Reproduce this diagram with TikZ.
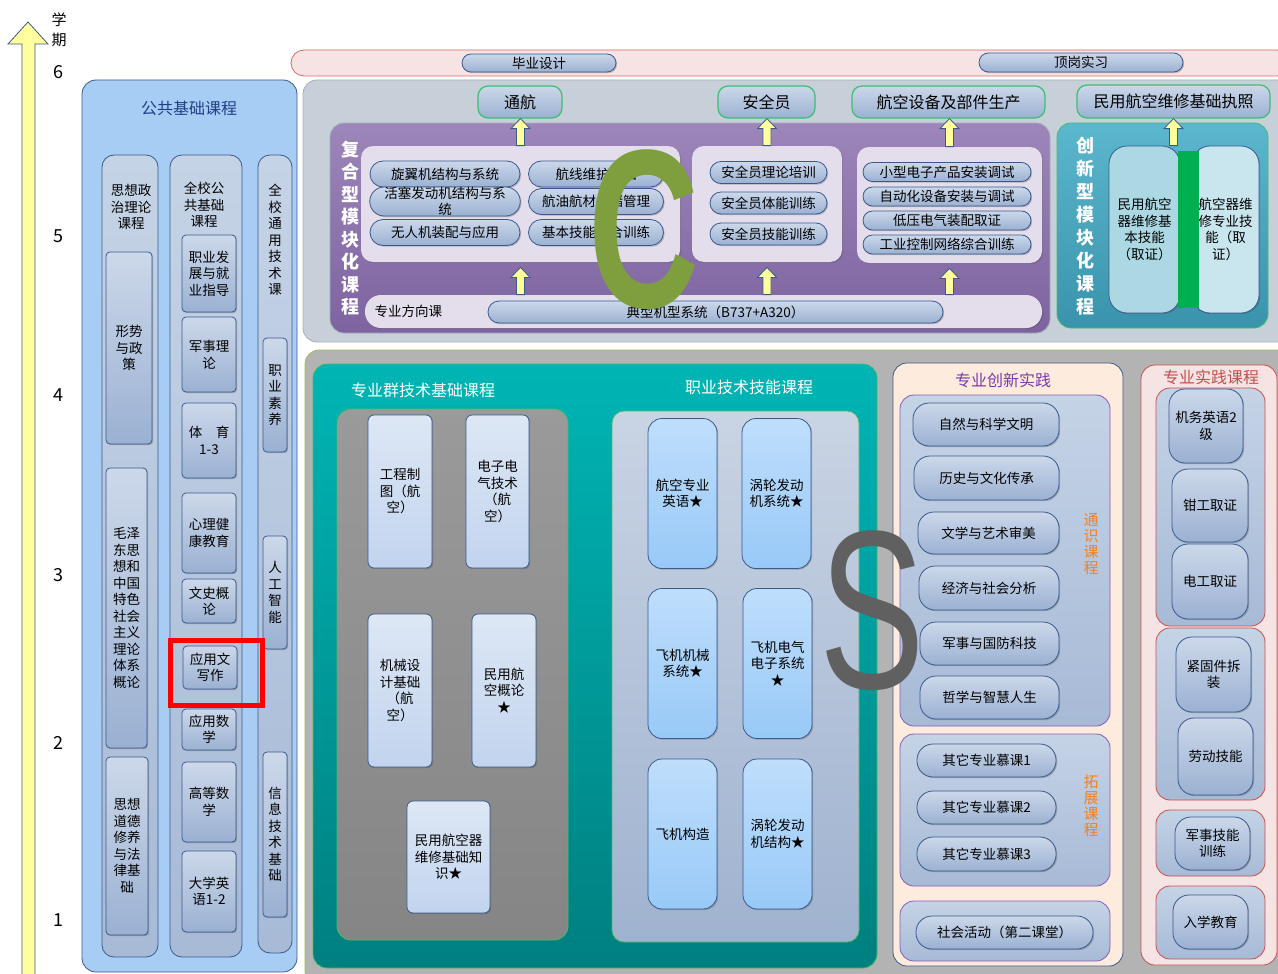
\documentclass[tikz,border=0pt]{standalone}
\usepackage{fontspec}
\usepackage{graphicx}
\usepackage{tikz}
\usetikzlibrary{calc, fit, shapes.misc, shadows}
\newfontfamily\cjk{Noto Sans CJK SC}
\newfontfamily\bigsans{Liberation Sans}
\definecolor{edgeblue}{HTML}{3B5A8C}
\definecolor{pubfill}{HTML}{A8CDF5}
\definecolor{pubttl}{HTML}{1F3F86}
\definecolor{colT}{HTML}{C5D3E6}
\definecolor{colB}{HTML}{A7BAD6}
\definecolor{itemT}{HTML}{CCD8EA}
\definecolor{itemB}{HTML}{9BB1D2}
\definecolor{axisyel}{HTML}{FFFF9E}
\definecolor{stripfill}{HTML}{F6E4E4}
\definecolor{stripedge}{HTML}{D46A66}
\definecolor{upfill}{HTML}{C7CFD9}
\definecolor{upedge}{HTML}{A5ADB7}
\definecolor{outgreen}{HTML}{3CBF70}
\definecolor{purT}{HTML}{9D86BA}
\definecolor{purB}{HTML}{7D63A0}
\definecolor{lav}{HTML}{E4DDEC}
\definecolor{cxT}{HTML}{5BB7CD}
\definecolor{cxB}{HTML}{3A93AC}
\definecolor{tpillA}{HTML}{ABD8E3}
\definecolor{tpillB}{HTML}{C9E6EE}
\definecolor{barg}{HTML}{00B050}
\definecolor{lowfill}{HTML}{B3B3B3}
\definecolor{lowedge}{HTML}{9BBB59}
\definecolor{tealT}{HTML}{00B5B5}
\definecolor{tealB}{HTML}{007F7F}
\definecolor{tealedge}{HTML}{4CB86A}
\definecolor{dkT}{HTML}{9A9A9A}
\definecolor{dkB}{HTML}{858585}
\definecolor{techT}{HTML}{DDE7F5}
\definecolor{techB}{HTML}{C2D4EE}
\definecolor{skpT}{HTML}{C9D4E4}
\definecolor{skpB}{HTML}{9FB2CF}
\definecolor{skT}{HTML}{BFDEFC}
\definecolor{skB}{HTML}{98C9F7}
\definecolor{peachfill}{HTML}{FDEBDD}
\definecolor{subedge}{HTML}{8A5BB5}
\definecolor{orangelbl}{HTML}{F28022}
\definecolor{pinkpanel}{HTML}{F6E3E3}
\definecolor{pinkedge}{HTML}{C8504C}
\definecolor{cxttl}{HTML}{7A3AAA}
\definecolor{sjttl}{HTML}{C0504D}
\definecolor{bigcgreen}{HTML}{7F9F3E}
\definecolor{bigsgrey}{HTML}{606060}
\newcommand{\boxfont}{\cjk\fontsize{13.5}{16.5}\selectfont}
\newcommand{\ttlfont}{\cjk\fontsize{16}{19}\selectfont}
\newcommand{\vttlfont}{\cjk\bfseries\fontsize{18}{22.5}\selectfont}

% yellow block arrow pointing up, lower anchor -> upper anchor
\newcommand{\liftarrow}[2]{%
  \filldraw[liftarr] let \p1=(#1), \p2=(#2) in
    (\x1-4pt,\y1) -- (\x1-4pt,\y2-10pt) -- (\x1-9.5pt,\y2-10pt) -- (\x1,\y2)
    -- (\x1+9.5pt,\y2-10pt) -- (\x1+4pt,\y2-10pt) -- (\x1+4pt,\y1) -- cycle;}

\tikzset{
  area/.style={inner sep=0pt, line width=0.8pt},
  spot/.style n args={4}{at={({(#1+#3)/2},{(#2+#4)/2})},
    minimum width={(#3-#1)*1pt}, minimum height={(#4-#2)*1pt}},
  shd/.style={drop shadow={shadow xshift=1.2pt, shadow yshift=-1.2pt, opacity=0.3, fill=black!70}},
  pubblk/.style={area, rounded corners=14pt, draw=edgeblue, fill=pubfill},
  colbox/.style={area, rounded corners=12pt, draw=edgeblue, top color=colT, bottom color=colB},
  item/.style={area, rounded corners=4pt, draw=edgeblue, top color=itemT, bottom color=itemB, align=center, shd},
  pill/.style={area, rounded rectangle, draw=edgeblue, top color=itemT, bottom color=itemB, align=center, shd},
  outc/.style={area, rounded corners=10pt, draw=outgreen, line width=1.2pt, top color=itemT, bottom color=itemB, font=\ttlfont},
  strip/.style={area, rounded rectangle, draw=stripedge, fill=stripfill},
  upblk/.style={area, rounded corners=14pt, draw=upedge, fill=upfill},
  purblk/.style={area, rounded corners=14pt, draw=upedge, top color=purT, bottom color=purB},
  lavpan/.style={area, rounded corners=12pt, fill=lav, shd},
  vttl/.style={align=center, text=white, font=\vttlfont},
  cxblk/.style={area, rounded corners=14pt, draw=outgreen, top color=cxT, bottom color=cxB},
  tpill/.style={area, rounded corners=18pt, draw=edgeblue, fill=tpillA, align=center, shd},
  tpill2/.style={tpill, fill=tpillB},
  gbar/.style={area, fill=barg},
  liftarr/.style={fill=axisyel, draw=edgeblue, line width=0.8pt},
  lowblk/.style={area, rounded corners=14pt, draw=lowedge, fill=lowfill},
  tealblk/.style={area, rounded corners=14pt, draw=tealedge, top color=tealT, bottom color=tealB},
  wttl/.style={text=white, font=\ttlfont},
  dkpan/.style={area, rounded corners=14pt, draw=tealedge, top color=dkT, bottom color=dkB},
  tech/.style={area, rounded corners=6pt, draw=edgeblue, top color=techT, bottom color=techB, align=center, shd},
  skpan/.style={area, rounded corners=12pt, draw=tealedge, top color=skpT, bottom color=skpB},
  skill/.style={area, rounded corners=14pt, draw=edgeblue, top color=skT, bottom color=skB, align=center, shd},
  peach/.style={area, rounded corners=14pt, draw=edgeblue, fill=peachfill},
  psub/.style={area, rounded corners=14pt, draw=subedge, top color=colT, bottom color=colB},
  rbox/.style={area, rounded corners=16pt, draw=edgeblue, top color=itemT, bottom color=itemB, align=center, shd},
  olbl/.style={align=center, text=orangelbl, font=\cjk\fontsize{15}{16}\selectfont},
  pinkpan/.style={area, rounded corners=14pt, draw=pinkedge, fill=pinkpanel},
  rsub/.style={area, rounded corners=14pt, draw=pinkedge, top color=colT, bottom color=colB},
  hilite/.style={area, draw=red, line width=5pt},
  semnum/.style={font=\cjk\fontsize{18}{20}\selectfont},
  bigletter/.style={inner sep=0pt, font=\bigsans\fontsize{226}{226}\selectfont},
}

\begin{document}
\begin{tikzpicture}[x=1pt, y=-1pt, font=\boxfont]
  \useasboundingbox (0,0) rectangle (1278,974);
  % semester axis
  \filldraw[liftarr] (22,980) -- (22,44) -- (8,44) -- (28,22) -- (48,44) -- (35,44) -- (35,980) -- cycle;
  \node[align=center, font=\cjk\fontsize{15}{20}\selectfont] (semttl) at (59,30) {学\\期};
  \foreach \s/\y in {6/72,5/236,4/395,3/575,2/743,1/920}
    \node[semnum] (sem\s) at (58,\y) {\s};

  % public base courses
  \node[pubblk, fit={(82,80) (297,972)}] (pub) {};
  \node[font=\ttlfont, text=pubttl] (pubttl) at (189,108) {公共基础课程};
  \node[colbox, fit={(102,155) (158,957)}] (colA) {};
  \node[colbox, fit={(170,155) (242,957)}] (colB) {};
  \node[colbox, fit={(258,155) (292,953)}] (colC) {};
  \node[align=center] (colAttl) at (131,207) {思想政\\治理论\\课程};
  \node[align=center] (colBttl) at (204,205) {全校公\\共基础\\课程};
  \node[align=center] (colCttl) at (275,240) {全\\校\\通\\用\\技\\术\\课};
  \node[item, spot={106}{252}{152}{444}] (xszc) {形势\\与政\\策};
  \node[item, spot={106}{468}{147}{748}] (mzd) {毛泽\\东思\\想和\\中国\\特色\\社会\\主义\\理论\\体系\\概论};
  \node[item, spot={106}{757}{148}{935}] (sxdd) {思想\\道德\\修养\\与法\\律基\\础};
  \node[item, spot={182}{235}{236}{312}] (zyfz) {职业发\\展与就\\业指导};
  \node[item, spot={182}{317}{236}{392}] (jsll) {军事理\\论};
  \node[item, spot={182}{403}{236}{478}] (ty) {体\quad 育\\1-3};
  \node[item, spot={182}{493}{236}{573}] (xljk) {心理健\\康教育};
  \node[item, spot={182}{579}{236}{623}] (wsgl) {文史概\\论};
  \node[item, spot={183}{646}{237}{689}] (yywx) {应用文\\写作};
  \node[item, spot={182}{709}{236}{750}] (yysx) {应用数\\学};
  \node[item, spot={182}{762}{236}{842}] (gdsx) {高等数\\学};
  \node[item, spot={182}{851}{236}{932}] (dxyy) {大学英\\语1-2};
  \node[item, spot={263}{338}{287}{452}] (zysy) {职\\业\\素\\养};
  \node[item, spot={263}{536}{287}{649}] (rgzn) {人\\工\\智\\能};
  \node[item, spot={263}{752}{287}{917}] (xxjs) {信\\息\\技\\术\\基\\础};
  \node[hilite, fit={(170.5,640.5) (262.5,705.5)}] (hl) {};

  % graduation strip
  \node[strip, fit={(304,50) (1277,76)}] (strip) {};
  \node[pill, spot={462}{54}{616}{72}] (bysj) {毕业设计};
  \node[pill, spot={979}{53}{1183}{72}] (dgsx) {顶岗实习};

  % upper block: outcomes and modular courses
  \node[upblk, fit={(303,80) (1292,342)}] (upper) {};
  \node[outc, spot={478}{86}{562}{118}] (th) {通航};
  \node[outc, spot={718}{86}{815}{118}] (aqy) {安全员};
  \node[outc, spot={852}{86}{1045}{118}] (hksb) {航空设备及部件生产};
  \node[outc, spot={1077}{85}{1270}{118}] (mhzz) {民用航空维修基础执照};
  \node[purblk, fit={(330,123) (1050,333)}] (fhx) {};
  \node[vttl] (fhxttl) at (350,228) {复\\合\\型\\模\\块\\化\\课\\程};
  \node[lavpan, fit={(361,146) (680,262)}] (panA) {};
  \node[lavpan, fit={(692,146) (842,262)}] (panB) {};
  \node[lavpan, fit={(857,147) (1042,263)}] (panC) {};
  \node[lavpan, rounded corners=16pt, fit={(365,295) (1042,328)}] (dirbg) {};
  \node[anchor=west] (dirttl) at (371,311) {专业方向课};
  \node[pill, spot={488}{301}{943}{323}] (dxjx) {典型机型系统（B737+A320）};
  \foreach \nm/\y/\tx in {xyj/174/旋翼机结构与系统, hsfd/201.5/{\fontsize{13.5}{14.5}\selectfont 活塞发动机结构与系\\统}, wrj/232.5/无人机装配与应用}
    \node[pill, minimum width=150pt, minimum height=26pt] (\nm) at (445,\y) {\tx};
  \foreach \nm/\y/\tx in {hxwh/174/航线维护基础, hycc/201.5/航油航材仓储管理, jbjn/232.5/基本技能综合训练}
    \node[pill, minimum width=135pt, minimum height=26pt] (\nm) at (596,\y) {\tx};
  \foreach \nm/\y/\tx in {aqll/172.5/安全员理论培训, aqtn/203/安全员体能训练, aqjn/234/安全员技能训练}
    \node[pill, minimum width=117pt, minimum height=22pt] (\nm) at (768.5,\y) {\tx};
  \foreach \nm/\y/\tx in {xdz/172/小型电子产品安装调试, zdh/196.5/自动化设备安装与调试, dydq/220.5/低压电气装配取证, gykz/244.5/工业控制网络综合训练}
    \node[pill, minimum width=168pt, minimum height=19pt] (\nm) at (947,\y) {\tx};
  \node[cxblk, fit={(1057,123) (1268,328)}] (cxx) {};
  \node[vttl, font=\cjk\bfseries\fontsize{18}{23}\selectfont] (cxxttl) at (1085,226) {创\\新\\型\\模\\块\\化\\课\\程};
  \node[tpill, spot={1109}{146}{1180}{313}] (jbjnq) {民用航空\\器维修基\\本技能\\（取证）};
  \node[tpill2, spot={1192}{146}{1259}{313}] (zyjnq) {航空器维\\修专业技\\能（取\\证）};
  \node[gbar, fit={(1178,151) (1199,308)}] (bar) {};
  \liftarrow{panA.north}{th.south}
  \liftarrow{panB.north}{aqy.south}
  \liftarrow{panC.north}{hksb.south}
  \liftarrow{mhzz.south |- jbjnq.north}{mhzz.south}
  \liftarrow{panA.south |- dirbg.north}{$(panA.south)+(0,5)$}
  \liftarrow{panB.south |- dirbg.north}{$(panB.south)+(0,5)$}
  \liftarrow{panC.south |- dirbg.north}{$(panC.south)+(0,5)$}

  % lower block: technical and skill courses
  \node[lowblk, fit={(305,350) (1292,985)}] (lower) {};
  \node[tealblk, fit={(313,364) (877,968)}] (zyq) {};
  \node[wttl] (zyqttl) at (423,390) {专业群技术基础课程};
  \node[wttl] (zyjnttl) at (749,387) {职业技术技能课程};
  \node[dkpan, fit={(337,409) (568,940)}] (jcpan) {};
  \node[tech, spot={368}{415}{432}{568}] (gczt) {工程制\\图（航\\空）};
  \node[tech, spot={466}{415}{529}{568}] (dzdq) {电子电\\气技术\\（航\\空）};
  \node[tech, spot={368}{614}{432}{767}] (jxsj) {机械设\\计基础\\（航\\空）};
  \node[tech, spot={472}{614}{536}{767}] (mhgl) {民用航\\空概论\\★};
  \node[tech, spot={407}{801}{490}{913}] (wxjc) {民用航空器\\维修基础知\\识★};
  \node[skpan, fit={(612,411) (859,942)}] (jnpan) {};
  \foreach \nm/\x/\y/\tx in {hkyy/682.5/493.5/{航空专业\\英语★}, wlxt/776.5/493.5/{涡轮发动\\机系统★},
      jxxt/682.5/663.5/{飞机机械\\系统★}, dqxt/777.5/663.5/{飞机电气\\电子系统\\★},
      fjgz/682.5/834/飞机构造, wljg/777.5/834/{涡轮发动\\机结构★}}
    \node[skill, minimum width=69pt, minimum height=150pt] (\nm) at (\x,\y) {\tx};

  % innovation practice
  \node[peach, fit={(893,363) (1123,966)}] (cxsj) {};
  \node[font=\ttlfont, text=cxttl] (cxsjttl) at (1003,380) {专业创新实践};
  \node[psub, fit={(900,395) (1110,726)}] (tsk) {};
  \node[psub, fit={(900,734) (1110,886)}] (tzk) {};
  \node[psub, fit={(900,901) (1110,961)}] (shhd) {};
  \node[olbl] (tskttl) at (1091,544) {通\\识\\课\\程};
  \node[olbl] (tzkttl) at (1091,806) {拓\\展\\课\\程};
  \foreach \nm/\xa/\ya/\yb/\tx in {zrkx/913/403/446/自然与科学文明, lswh/914/456/500/历史与文化传承,
      wxys/918/512/554/文学与艺术审美, jjsh/919/566/610/经济与社会分析,
      jsgf/920/622/665/军事与国防科技, zxzh/920/676/719/哲学与智慧人生}
    \node[rbox, spot={\xa}{\ya}{1059}{\yb}] (\nm) {\tx};
  \foreach \nm/\ya/\yb/\tx in {mk1/744/777/其它专业慕课1, mk2/791/824/其它专业慕课2, mk3/837/871/其它专业慕课3}
    \node[rbox, spot={917}{\ya}{1056}{\yb}] (\nm) {\tx};
  \node[rbox, spot={916}{916}{1093}{949}] (dekt) {社会活动（第二课堂）};

  % practice courses
  \node[pinkpan, fit={(1141,365) (1277,965)}] (sjkc) {};
  \node[font=\ttlfont, text=sjttl] (sjkcttl) at (1211,377) {专业实践课程};
  \node[rsub, fit={(1156,388) (1265,626)}] (rs1) {};
  \node[rsub, fit={(1156,628) (1265,800)}] (rs2) {};
  \node[rsub, fit={(1156,810) (1265,876)}] (rs3) {};
  \node[rsub, fit={(1156,886) (1265,959)}] (rs4) {};
  \node[rbox, spot={1169}{389}{1243}{463}] (jwyy) {机务英语2\\级};
  \node[rbox, spot={1172}{469}{1248}{542}] (qgqz) {钳工取证};
  \node[rbox, spot={1172}{544}{1248}{619}] (dgqz) {电工取证};
  \node[rbox, spot={1176}{637}{1251}{712}] (jgj) {紧固件拆\\装};
  \node[rbox, spot={1178}{718}{1253}{795}] (ldjn) {劳动技能};
  \node[rbox, spot={1175}{817}{1250}{870}] (jsjn) {军事技能\\训练};
  \node[rbox, spot={1173}{895}{1248}{949}] (rxjy) {入学教育};

  % large overlay letters
  \node[bigletter, font=\bigsans\bfseries\fontsize{226}{226}\selectfont, text=bigcgreen] (bigC) at (644,230) {\scalebox{0.68}[1]{C}};
  \node[bigletter, text=bigsgrey] (bigS) at (872,611) {\scalebox{0.7}[1]{S}};
\end{tikzpicture}
\end{document}
